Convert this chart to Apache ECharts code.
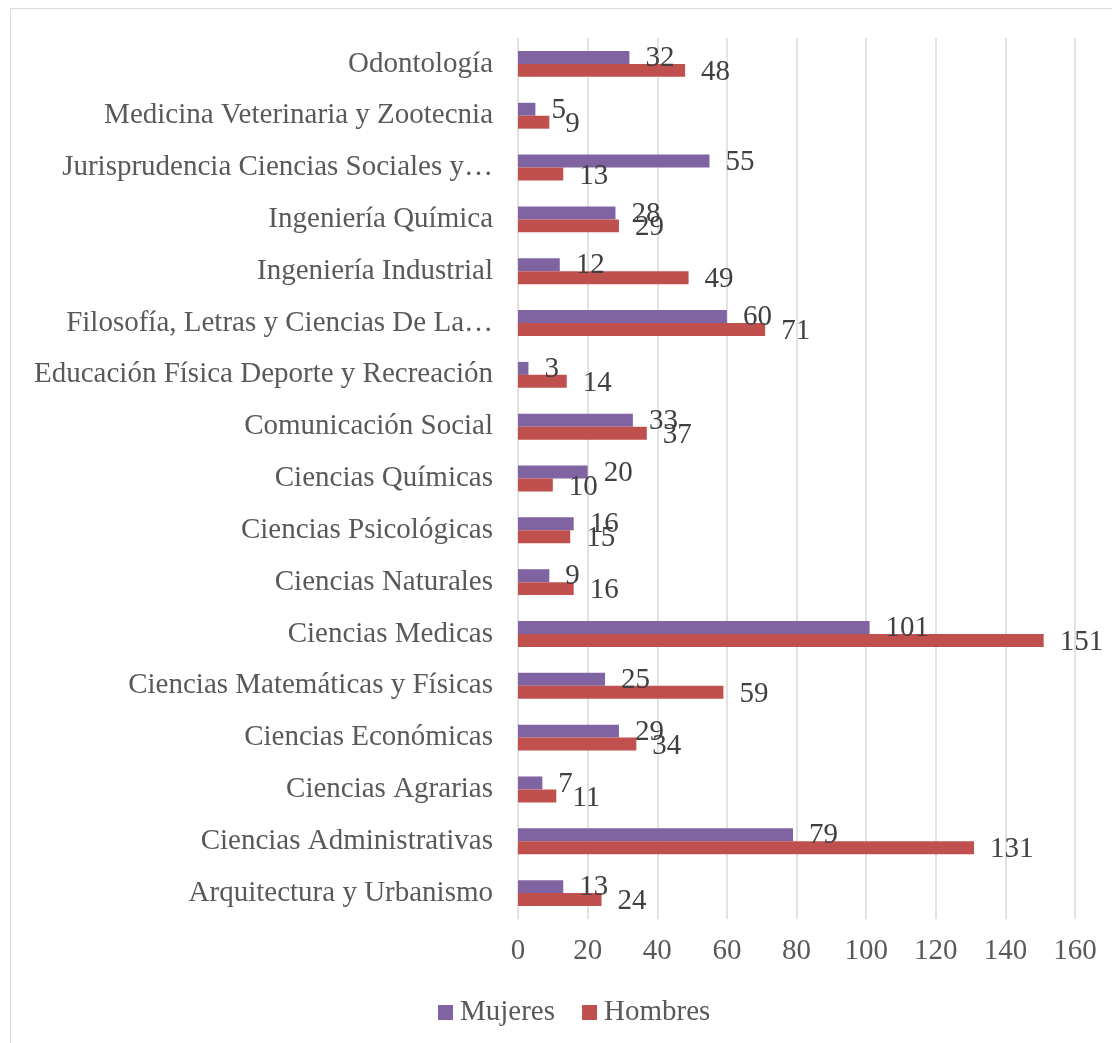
<!DOCTYPE html>
<html>
<head>
<meta charset="utf-8">
<script src="https://cdn.jsdelivr.net/npm/echarts@6/dist/echarts.min.js"></script>
<style>
  html, body { margin: 0; padding: 0; background: #fff; }
  #chart { width: 1112px; height: 1043px; }
</style>
</head>
<body>
<div id="chart"></div>
<script>
// categories from bottom to top, as drawn
var categories = [
  'Arquitectura y Urbanismo',
  'Ciencias Administrativas',
  'Ciencias Agrarias',
  'Ciencias Económicas',
  'Ciencias Matemáticas y Físicas',
  'Ciencias Medicas',
  'Ciencias Naturales',
  'Ciencias Psicológicas',
  'Ciencias Químicas',
  'Comunicación Social',
  'Educación Física Deporte y Recreación',
  'Filosofía, Letras y Ciencias De La…',
  'Ingeniería Industrial',
  'Ingeniería Química',
  'Jurisprudencia Ciencias Sociales y…',
  'Medicina Veterinaria y Zootecnia',
  'Odontología'
];
var mujeres = [13, 79, 7, 29, 25, 101, 9, 16, 20, 33, 3, 60, 12, 28, 55, 5, 32];
var hombres = [24, 131, 11, 34, 59, 151, 16, 15, 10, 37, 14, 71, 49, 29, 13, 9, 48];
var xTicks = [0, 20, 40, 60, 80, 100, 120, 140, 160];

var font = "'Liberation Serif', 'Times New Roman', serif";

var myChart = echarts.init(document.getElementById('chart'));

var option = {
  animation: false,
  textStyle: { fontFamily: font },
  color: ['#8064A2', '#C0504D'],
  graphic: [{
    type: 'rect',
    shape: { x: 10.5, y: 8.5, width: 1110, height: 1040 },
    style: { fill: 'none', stroke: '#d9d9d9', lineWidth: 1 },
    silent: true
  }],
  grid: { left: 518, right: 37, top: 38, bottom: 124, containLabel: false },
  legend: {
    data: ['Mujeres', 'Hombres'],
    top: 998,
    left: 438,
    padding: 0,
    icon: 'rect',
    itemWidth: 15,
    itemHeight: 15,
    itemGap: 27,
    textStyle: { fontFamily: font, fontSize: 29, color: '#595959', padding: [0, 0, 0, 2] }
  },
  xAxis: {
    type: 'value',
    min: xTicks[0],
    max: xTicks[xTicks.length - 1],
    interval: xTicks[1] - xTicks[0],
    axisLine: { show: false },
    axisTick: { show: false },
    splitLine: { lineStyle: { color: '#d9d9d9', width: 1.5 } },
    axisLabel: { fontFamily: font, fontSize: 29, color: '#595959', margin: 18 }
  },
  yAxis: {
    type: 'category',
    data: categories,
    axisLine: { show: false },
    axisTick: { show: false },
    axisLabel: { fontFamily: font, fontSize: 29, color: '#595959', margin: 25 }
  },
  series: [{
    name: 'Mujeres',
    type: 'bar',
    data: mujeres,
    barGap: '0%',
    barCategoryGap: '50%',
    label: {
      show: true, position: 'right', distance: 16, offset: [0, 1],
      fontFamily: font, fontSize: 29, color: '#404040'
    }
  }, {
    name: 'Hombres',
    type: 'bar',
    data: hombres,
    barGap: '0%',
    barCategoryGap: '50%',
    label: {
      show: true, position: 'right', distance: 16, offset: [0, 2],
      fontFamily: font, fontSize: 29, color: '#404040'
    }
  }]
};

myChart.setOption(option);
</script>
</body>
</html>
